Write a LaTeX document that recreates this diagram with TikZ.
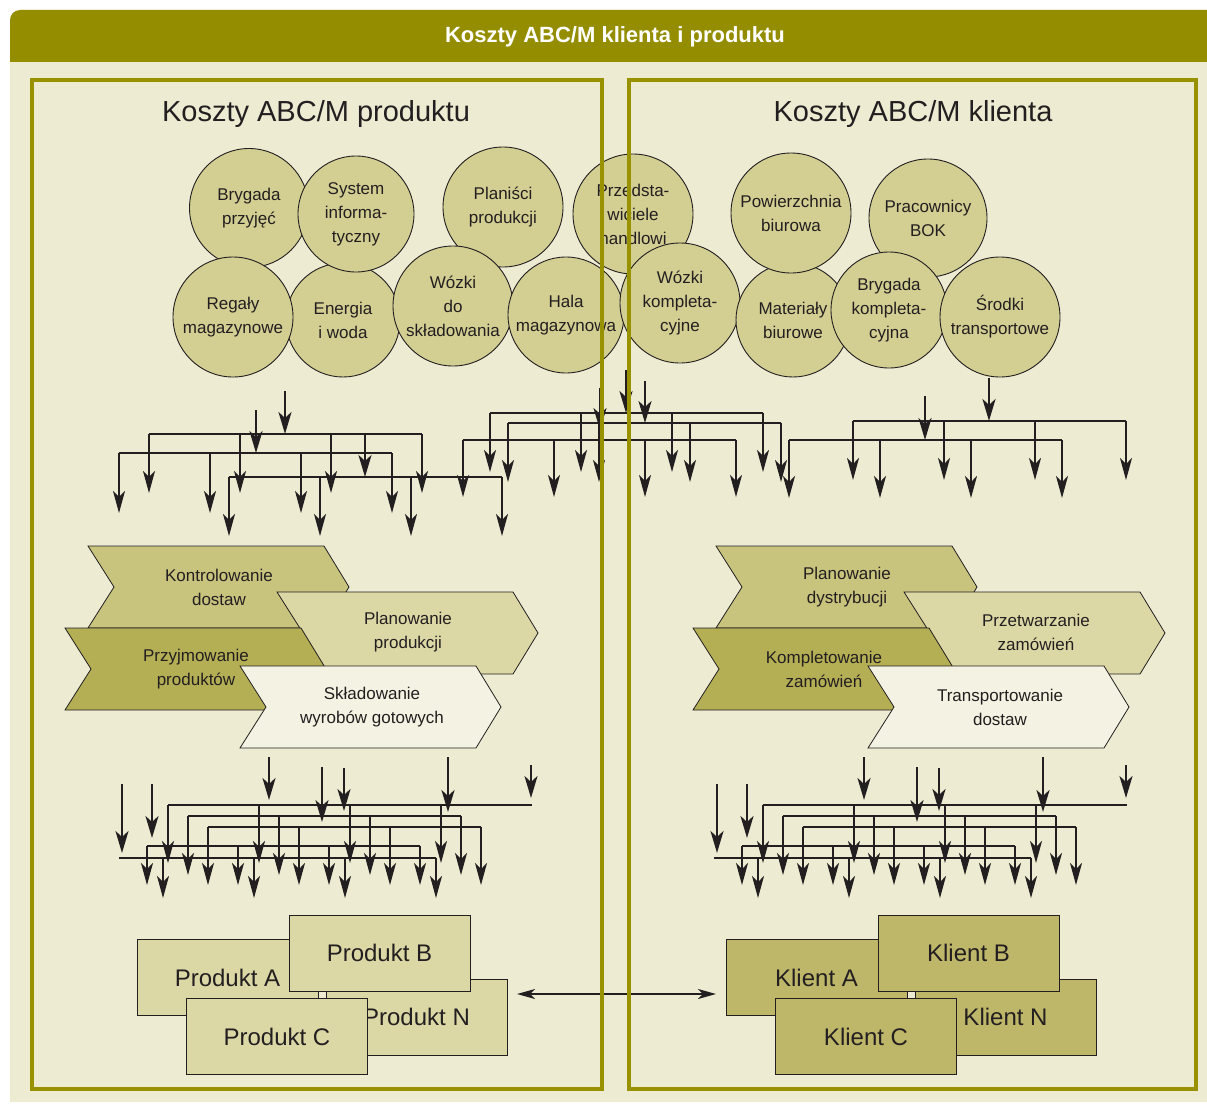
\documentclass[tikz,border=0pt]{standalone}
\usepackage{fontspec}
\setmainfont{Liberation Sans}
\usetikzlibrary{arrows.meta}
\definecolor{headcol}{RGB}{148,141,0}
\definecolor{framecol}{RGB}{152,146,0}
\definecolor{cream}{RGB}{237,235,210}
\definecolor{bubfill}{RGB}{211,206,146}
\definecolor{chA}{RGB}{200,195,125}
\definecolor{chB}{RGB}{220,216,166}
\definecolor{chC}{RGB}{180,174,85}
\definecolor{chD}{RGB}{244,242,226}
\definecolor{prodfill}{RGB}{220,216,166}
\definecolor{klfill}{RGB}{190,183,106}
\definecolor{ink}{RGB}{35,31,32}
\newcommand\mychev[3]{%
  \filldraw[fill=#3, draw=ink, line width=0.8pt] (#1,#2) -- ++(236,0) -- ++(25,41) -- ++(-25,41) -- ++(-236,0) -- ++(26,-41) -- cycle;}
\newcommand\lev[3]{%
  \draw[branch] (#1,#2) -- ({#1+273},#2);
  \foreach \k in {0,1,2,3} {\draw[drop] ({#1+91*\k},#2) -- ({#1+91*\k},#3);}}
\newcommand\lowernet{%
  \lev{168}{805}{863}
  \draw[branch] (441,805) -- (532,805);
  \lev{188}{816}{875}
  \lev{208}{827}{885}
  \lev{147}{846}{885}
  \lev{163}{858}{898}
  \draw[branch] (119,858) -- (163,858);
  \draw[inarrow] (122,784) -- (122,853);
  \draw[inarrow] (152,784) -- (152,838);
  \draw[inarrow] (269,757) -- (269,800);
  \draw[inarrow] (322,767) -- (322,822);
  \draw[inarrow] (344,768) -- (344,811);
  \draw[inarrow] (448,757) -- (448,812);
  \draw[inarrow] (531,765) -- (531,798);}
\begin{document}
\begin{tikzpicture}[x=1pt,y=-1pt,
  bubble/.style={circle, draw=ink, line width=0.9pt, fill=bubfill, inner sep=0pt, align=center, text=ink, font=\fontsize{17}{24}\selectfont},
  branch/.style={draw=ink, line width=1.3pt},
  drop/.style={draw=ink, line width=1.3pt, -{Stealth[length=22pt,width=12pt,inset=6pt]}},
  inarrow/.style={draw=ink, line width=2.6pt, -{Stealth[length=22pt,width=13pt,inset=6pt]}},
  chevtext/.style={align=center, text=ink, font=\fontsize{17}{24}\selectfont},
  box/.style={draw=ink, line width=0.9pt, minimum width=181pt, minimum height=76pt, inner sep=0pt, text=ink, font=\fontsize{24}{28}\selectfont},
  frame/.style={draw=framecol, line width=4pt},
  dbl/.style={draw=ink, line width=1.6pt, {Stealth[length=18pt,width=10pt,inset=5pt]}-{Stealth[length=18pt,width=10pt,inset=5pt]}}
]
\useasboundingbox (0,0) rectangle (1207,1108);
\fill[white] (0,0) rectangle (1207,1108);
\fill[cream] (10,62) rectangle (1207,1102);
\fill[headcol] (10,62) [rounded corners=10pt] -- (10,10) -- (60,10) [sharp corners] -- (1207,10) -- (1207,62) -- cycle;
\node[font=\bfseries\fontsize{22}{26}\selectfont, text=white] (title) at (615,37) {Koszty ABC/M klienta i produktu};

\node[font=\fontsize{29}{34}\selectfont, text=ink] (tleft) at (316,114) {Koszty ABC/M produktu};
\node[font=\fontsize{29}{34}\selectfont, text=ink] (tright) at (913,114) {Koszty ABC/M klienta};

% bubbles
\node[bubble, minimum size=119pt] (b1) at (249,208) {Brygada\\przyjęć};
\node[bubble, minimum size=114pt] (b4) at (343,320) {Energia\\i woda};
\node[bubble, minimum size=116pt] (b2) at (356,214) {System\\informa-\\tyczny};
\node[bubble, minimum size=120pt] (b3) at (233,317) {Regały\\magazynowe};
\node[bubble, minimum size=120pt] (b6) at (503,207) {Planiści\\produkcji};
\node[bubble, minimum size=120pt] (b5) at (453,306) {Wózki\\do\\składowania};
\node[bubble, minimum size=116pt] (b7) at (566,315) {Hala\\magazynowa};
\node[bubble, minimum size=120pt] (b8) at (633,214) {Przedsta-\\wiciele\\handlowi};
\node[bubble, minimum size=120pt] (b9) at (680,303) {Wózki\\kompleta-\\cyjne};
\node[bubble, minimum size=114pt] (b11) at (793,320) {Materiały\\biurowe};
\node[bubble, minimum size=120pt] (b10) at (791,213) {Powierzchnia\\biurowa};
\node[bubble, minimum size=118pt] (b12) at (928,218) {Pracownicy\\BOK};
\node[bubble, minimum size=116pt] (b13) at (889,310) {Brygada\\kompleta-\\cyjna};
\node[bubble, minimum size=120pt] (b14) at (1000,317) {Środki\\transportowe};

% upper networks
\lev{149}{434}{493}
\lev{119}{453}{513}
\lev{229}{477}{536}
\draw[inarrow] (285,391) -- (285,434);
\draw[inarrow] (256,410) -- (256,453);
\draw[inarrow] (365,434) -- (365,477);

\lev{490}{413}{472}
\lev{508}{423}{482}
\lev{463}{440}{497}
\draw[inarrow] (626,370) -- (626,413);
\draw[inarrow] (645,381) -- (645,423);
\draw[inarrow] (600,388) -- (600,430);

\lev{853}{421}{480}
\lev{789}{440}{498}
\draw[inarrow] (989,378) -- (989,421);
\draw[inarrow] (925,396) -- (925,440);

% chevrons left
\mychev{88}{546}{chA}
\mychev{277}{592}{chB}
\mychev{65}{628}{chC}
\mychev{240}{666}{chD}
\node[chevtext] (c1) at (219,587) {Kontrolowanie\\dostaw};
\node[chevtext] (c2) at (408,632) {Planowanie\\produkcji};
\node[chevtext] (c3) at (196,669) {Przyjmowanie\\produktów};
\node[chevtext] (c4) at (372,707) {Składowanie\\wyrobów gotowych};
% chevrons right
\mychev{716}{546}{chA}
\mychev{904}{592}{chB}
\mychev{693}{628}{chC}
\mychev{868}{666}{chD}
\node[chevtext] (c5) at (847,587) {Planowanie\\dystrybucji};
\node[chevtext] (c6) at (1036,632) {Przetwarzanie\\zamówień};
\node[chevtext] (c7) at (824,669) {Kompletowanie\\zamówień};
\node[chevtext] (c8) at (1000,707) {Transportowanie\\dostaw};

% lower networks
\lowernet
\begin{scope}[xshift=595pt]
\lowernet
\end{scope}

% product boxes
\node[box, fill=prodfill] (pA) at (227.5,977.5) {Produkt A};
\node[box, fill=prodfill] (pN) at (416.5,1017) {Produkt N};
\node[box, fill=prodfill] (pB) at (379.5,953) {Produkt B};
\node[box, fill=prodfill] (pC) at (277,1036.5) {Produkt C};
% client boxes
\node[box, fill=klfill] (kA) at (816.5,977.5) {Klient A};
\node[box, fill=klfill] (kN) at (1005.5,1017) {Klient N};
\node[box, fill=klfill] (kB) at (968.5,953) {Klient B};
\node[box, fill=klfill] (kC) at (866,1036.5) {Klient C};

\coordinate (dl) at (517,994);
\coordinate (dr) at (716,994);
\draw[dbl] (dl) -- (dr);

% frames
\draw[frame] (32,80) rectangle (602,1089);
\draw[frame] (629,80) rectangle (1196,1089);
\end{tikzpicture}
\end{document}
